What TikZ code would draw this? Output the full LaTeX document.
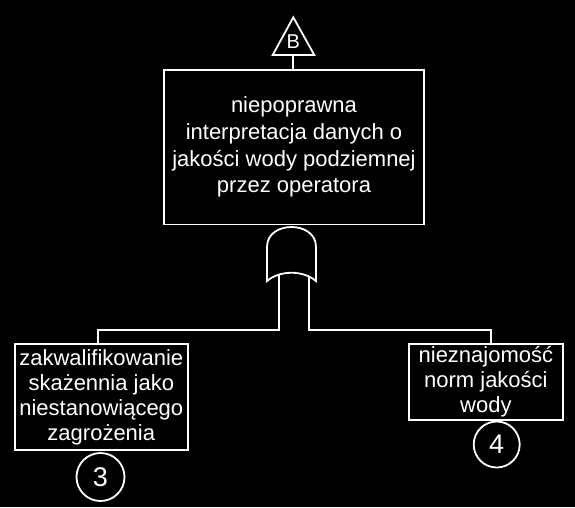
\documentclass[tikz,border=0pt]{standalone}
\usepackage{fontspec}
\setmainfont{Liberation Sans}
\begin{document}
\begin{tikzpicture}[x=1pt,y=-1pt,line width=1.8pt,
  every node/.style={text=white},
  evbox/.style={draw=white,align=center,inner sep=0pt,
    font=\fontsize{22}{26.7}\selectfont},
  childbox/.style={evbox,font=\fontsize{22}{25}\selectfont},
  numcirc/.style={draw=white,circle,inner sep=0pt,minimum size=#1,
    font=\fontsize{27}{30}\selectfont},
  wire/.style={draw=white,line join=miter}]
\fill[black] (0,0) rectangle (575,507);
\useasboundingbox (0,0) rectangle (575,507);

% transfer triangle
\draw[wire] (272.7,55) -- (293.3,17.3) -- (314.3,55) -- cycle;
\node[font=\fontsize{20}{22}\selectfont] (tri) at (293.3,41.2) {B};
\coordinate (triB) at (293.3,55);

% top event
\node[evbox,minimum width=260pt,minimum height=154.5pt] (top) at (294,147.2)
  {niepoprawna\\interpretacja danych o\\jakości wody podziemnej\\przez operatora};
\draw[wire] (triB) -- (triB |- top.north);

% OR gate
\draw[wire] (267,281) -- (267,247)
  .. controls (267,233) and (280,227) .. (291.5,227)
  .. controls (303,227) and (316,233) .. (316,247)
  -- (316,281)
  .. controls (303,270) and (280,270) .. (267,281) -- cycle;
\coordinate (gL) at (279.3,275);
\coordinate (gR) at (309,276.5);

% basic events
\node[childbox,minimum width=172.7pt,minimum height=105.4pt] (left) at (101.3,397)
  {zakwalifikowanie\\skażennia jako\\niestanowiącego\\zagrożenia};
\node[childbox,minimum width=153.7pt,minimum height=76pt] (right) at (485.9,382)
  {nieznajomość\\norm jakości\\wody};
\node[numcirc=48pt] (c3) at (100.5,477) {3};
\node[numcirc=46pt] (c4) at (496.7,444.5) {4};

% connectors
\coordinate (lj) at (98.3,330);
\coordinate (rj) at (491,330);
\draw[wire] (gL) |- (lj) -- (lj |- left.north);
\draw[wire] (gR) |- (rj) -- (rj |- right.north);
\end{tikzpicture}
\end{document}
